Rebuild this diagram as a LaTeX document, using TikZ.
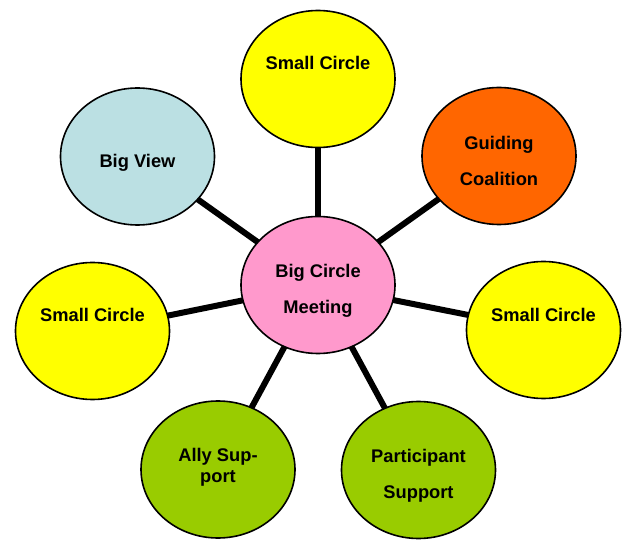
\documentclass[tikz,border=0pt]{standalone}
\usepackage{fontspec}
\setmainfont{Liberation Sans}
\usetikzlibrary{shapes.geometric,backgrounds}
\definecolor{cyellow}{HTML}{FFFF00}
\definecolor{corange}{HTML}{FF6600}
\definecolor{cblue}{HTML}{BBE0E3}
\definecolor{cpink}{HTML}{FF99CC}
\definecolor{cgreen}{HTML}{99CC00}
\begin{document}
\begin{tikzpicture}[x=1pt,y=-1pt,
  bubble/.style={ellipse,draw=black,line width=1.6pt,minimum width=154pt,minimum height=137pt,inner sep=0pt},
  lbl/.style={font=\fontsize{18.3}{22}\selectfont\bfseries,align=center,inner sep=0pt},
  spoke/.style={line width=6pt}]
\useasboundingbox (0,0) rectangle (630,540);
% ellipses
\node[bubble,fill=cpink]   (big)   at (318,285)   {};
\node[bubble,fill=cyellow] (top)   at (318,79)    {};
\node[bubble,fill=corange] (guide) at (499,156)   {};
\node[bubble,fill=cblue]   (view)  at (137.5,156.5) {};
\node[bubble,fill=cyellow] (left)  at (92.5,331)  {};
\node[bubble,fill=cyellow] (right) at (543.5,330) {};
\node[bubble,fill=cgreen]  (ally)  at (218,469.5) {};
\node[bubble,fill=cgreen]  (part)  at (418.5,470) {};
% spokes
\begin{scope}[on background layer]
\foreach \n in {top,guide,view,left,right,ally,part}
  \draw[spoke] (big.center) -- (\n.center);
\end{scope}
% labels
\node[lbl,anchor=base] (topt)   at (318,69.5)  {Small Circle};
\node[lbl,anchor=base] (viewt)  at (137.5,168) {Big View};
\node[lbl,anchor=base] (leftt)  at (92.5,321.5) {Small Circle};
\node[lbl,anchor=base] (rightt) at (543.5,321.5) {Small Circle};
\node[lbl] (guidet) at (499,160.5) {Guiding\\[14pt]Coalition};
\node[lbl] (bigt)   at (318,290.5) {Big Circle\\[14pt]Meeting};
\node[lbl] (partt)  at (418.5,475.5) {Participant\\[14pt]Support};
\node[lbl] (allyt)  at (218,467) {Ally Sup-\\[-1pt]port};
\end{tikzpicture}
\end{document}
